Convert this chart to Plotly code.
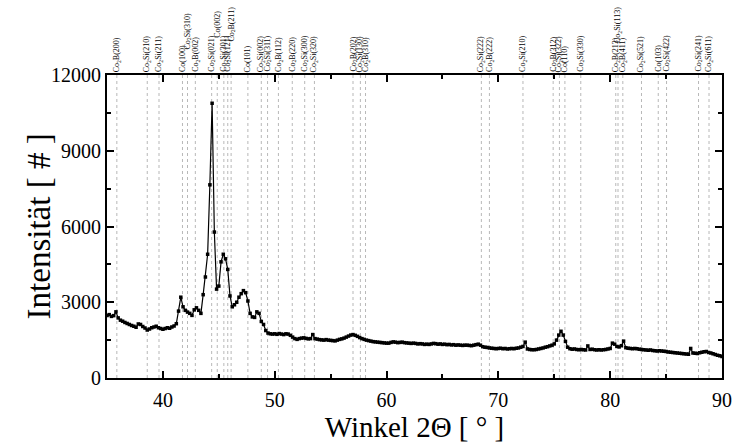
import plotly.graph_objects as go

# --- data -------------------------------------------------------------
angle_start = 35.0
angle_step = 0.2
intensity = [
    2480, 2510, 2440, 2470, 2620, 2380,
    2290, 2250, 2200, 2160, 2120,
    2080, 2050, 2010, 2140, 2120,
    2040, 1980, 1900, 1940, 1990,
    2020, 2050, 1990, 1960, 1930,
    1960, 1990, 1970, 2020, 2060,
    2150, 2650, 3200, 2820, 2680,
    2610, 2560, 2480, 2700, 2780,
    2680, 2560, 3300, 4000, 4900,
    7650, 10880, 5780, 3520, 3640,
    4600, 4900, 4720, 4300, 3250,
    2820, 2900, 3000, 3200, 3340,
    3460, 3380, 3050, 2560, 2420,
    2400, 2620, 2560, 2240, 2120,
    1880, 1780, 1750, 1740, 1750,
    1730, 1760, 1740, 1720, 1750,
    1740, 1690, 1620, 1560, 1530,
    1560, 1580, 1590, 1570, 1550,
    1560, 1720, 1560, 1540, 1520,
    1510, 1500, 1520, 1500, 1490,
    1480, 1470, 1500, 1530, 1550,
    1580, 1620, 1660, 1700, 1720,
    1690, 1650, 1600, 1560, 1530,
    1500, 1480, 1460, 1440, 1430,
    1420, 1410, 1400, 1390, 1380,
    1380, 1410, 1430, 1420, 1400,
    1410, 1420, 1400, 1390, 1380,
    1370, 1380, 1370, 1350, 1360,
    1350, 1330, 1340, 1330, 1350,
    1370, 1360, 1340, 1350, 1330,
    1340, 1320, 1330, 1310, 1320,
    1300, 1310, 1300, 1290, 1300,
    1300, 1290, 1280, 1300, 1320,
    1340, 1300, 1240, 1220, 1210,
    1190, 1180, 1170, 1160, 1170,
    1180, 1160, 1170, 1150, 1160,
    1170, 1160, 1180, 1190, 1220,
    1250, 1420, 1150, 1130, 1120,
    1120, 1130, 1150, 1170, 1190,
    1220, 1240, 1270, 1300, 1350,
    1500, 1700, 1850, 1700, 1450,
    1220, 1160, 1140, 1150, 1130,
    1120, 1130, 1120, 1110, 1270,
    1130, 1140, 1120, 1110, 1120,
    1110, 1120, 1130, 1150, 1170,
    1380, 1340, 1250, 1230, 1280,
    1460, 1200, 1180, 1170, 1160,
    1170, 1160, 1140, 1130, 1120,
    1110, 1100, 1110, 1090, 1080,
    1070, 1080, 1070, 1060, 1050,
    1030, 1020, 1010, 1000, 990,
    980, 970, 960, 950, 940,
    1170, 990, 980, 970, 1000,
    1020, 1040, 1050, 1010, 990,
    960, 930, 900, 880, 850,
]
angles = [round(angle_start + i * angle_step, 2) for i in range(len(intensity))]

ref_labels = [
    "Co<sub>2</sub>B(200)", "Co<sub>2</sub>Si(210)", "Co<sub>2</sub>Si(211)",
    "Co(100)", "Co<sub>2</sub>Si(310)", "Co<sub>2</sub>B(002)",
    "Co<sub>2</sub>Si(021)", "Co(002)", "Co<sub>2</sub>Si(301)",
    "Co<sub>2</sub>Si(121)", "Co<sub>2</sub>B(211)", "Co(101)",
    "Co<sub>2</sub>Si(002)", "Co<sub>2</sub>Si(311)", "Co<sub>2</sub>B(112)",
    "Co<sub>2</sub>B(220)", "Co<sub>2</sub>Si(300)", "Co<sub>2</sub>Si(320)",
    "Co<sub>2</sub>B(202)", "Co<sub>2</sub>Si(130)", "Co<sub>2</sub>B(310)",
    "Co<sub>2</sub>Si(222)", "Co<sub>2</sub>B(222)", "Co<sub>2</sub>Si(210)",
    "Co<sub>2</sub>B(312)", "Co<sub>2</sub>Si(322)", "Co(110)",
    "Co<sub>2</sub>Si(330)", "Co<sub>2</sub>B(213)", "Co<sub>2</sub>Si(113)",
    "Co<sub>2</sub>B(411)", "Co<sub>2</sub>Si(521)", "Co(103)",
    "Co<sub>2</sub>Si(422)", "Co<sub>2</sub>Si(241)", "Co<sub>2</sub>Si(611)",
]
ref_angles = [
    35.88, 38.6, 39.65, 41.75, 42.2, 42.9, 44.36, 44.86, 45.45, 45.8, 46.1,
    47.6, 48.8, 49.36, 50.33, 51.57, 52.68, 53.55, 57.0, 57.66, 58.12,
    68.48, 69.2, 72.2, 74.9, 75.46, 75.95, 77.37, 80.5, 80.7, 81.13,
    82.8, 84.3, 85.04, 87.9, 88.84,
]
raised = {"Co<sub>2</sub>Si(310)": 22, "Co(002)": 34,
          "Co<sub>2</sub>B(211)": 30, "Co<sub>2</sub>Si(113)": 29}

# --- figure -----------------------------------------------------------
FONT = "Times New Roman, Liberation Serif, DejaVu Serif, serif"
W, H = 744, 443
ML, MR, MT, MB = 107, 14, 75, 62
fig = go.Figure()
fig.add_trace(go.Scatter(
    x=angles, y=intensity, mode="lines+markers",
    line=dict(color="black", width=1.2),
    marker=dict(symbol="square", size=3.5, color="black"),
    showlegend=False,
))

for lab, a in zip(ref_labels, ref_angles):
    fig.add_shape(type="line", xref="x", yref="paper", x0=a, x1=a, y0=0, y1=1,
                  line=dict(color="#9a9a9a", width=0.7, dash="dot"), layer="below")
    fig.add_annotation(x=a, y=1, xref="x", yref="paper", text=lab,
                       textangle=-90, showarrow=False, xanchor="center",
                       yanchor="bottom", yshift=1 + raised.get(lab, 0),
                       font=dict(family=FONT, size=8, color="black"))

# y-axis title placed as rotated text left of the tick labels
fig.add_annotation(x=-(ML - 38) / (W - ML - MR), y=0.5, xref="paper", yref="paper",
                   text="Intensität [ # ]", textangle=-90, showarrow=False,
                   xanchor="center", yanchor="middle",
                   font=dict(family=FONT, size=33, color="black"))

axis_common = dict(
    showgrid=False, zeroline=False, showline=True, linecolor="black",
    linewidth=2, mirror="ticks", ticks="inside", tickcolor="black",
    tickwidth=2, ticklen=7,
    tickfont=dict(family=FONT, size=20, color="black"),
)
fig.update_xaxes(range=[35, 90], tick0=40, dtick=10, ticklabelstandoff=3,
                 minor=dict(ticks="inside", dtick=5, tick0=35, ticklen=4,
                            tickcolor="black", tickwidth=1.5),
                 title=dict(text="Winkel 2Θ [ ° ]",
                            font=dict(family=FONT, size=29, color="black"),
                            standoff=0),
                 **axis_common)
fig.update_yaxes(range=[0, 12000], tick0=0, dtick=3000, tickformat="d",
                 minor=dict(ticks="inside", dtick=1500, ticklen=4,
                            tickcolor="black", tickwidth=1.5),
                 **axis_common)
fig.update_layout(
    width=W, height=H,
    margin=dict(l=ML, r=MR, t=MT, b=MB),
    paper_bgcolor="white", plot_bgcolor="white",
    font=dict(family=FONT, color="black"),
)
fig.write_html("out.html")
